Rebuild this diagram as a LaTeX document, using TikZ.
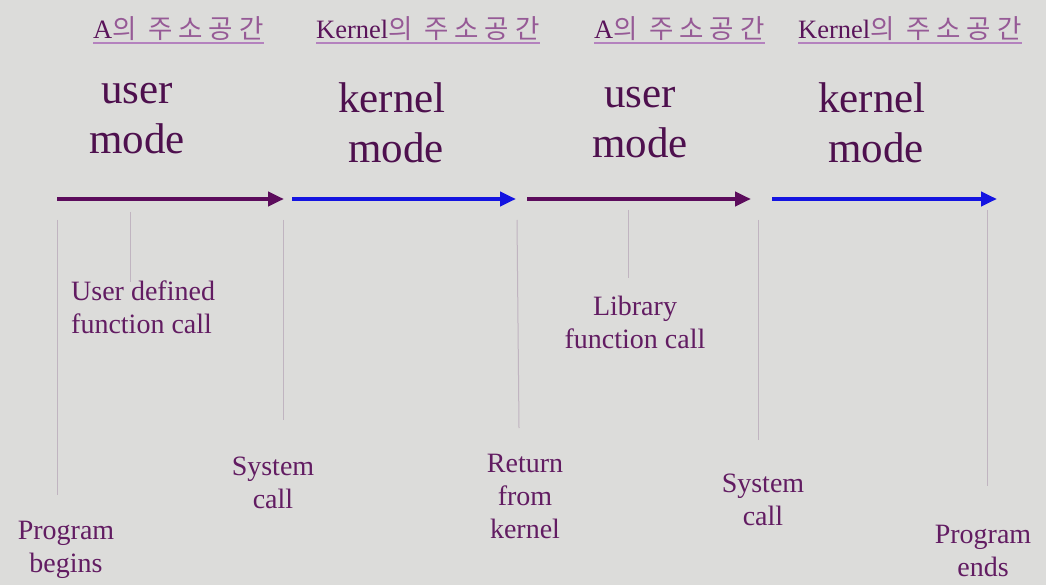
\documentclass[tikz,border=0pt]{standalone}
\usepackage{fontspec}
\setmainfont{Liberation Serif}
\newfontfamily\kr[LetterSpace=22]{Noto Sans CJK KR}
\usetikzlibrary{arrows.meta}
\definecolor{bg}{RGB}{220,220,218}
\definecolor{bigtxt}{RGB}{78,16,78}
\definecolor{lbltxt}{RGB}{98,28,98}
\definecolor{headA}{RGB}{90,20,90}
\definecolor{headK}{RGB}{150,90,150}
\definecolor{uline}{RGB}{180,130,190}
\definecolor{purplearr}{RGB}{92,12,92}
\definecolor{bluearr}{RGB}{20,20,225}
\definecolor{tick}{RGB}{192,180,192}
\tikzset{
  x=1pt, y=-1pt,
  heading/.style={inner sep=0pt, anchor=base west, font=\fontsize{26.5}{30}\selectfont},
  modetext/.style={inner sep=0pt, align=center, text=bigtxt, font=\fontsize{43}{50}\selectfont},
  lbl/.style={inner sep=0pt, align=center, text=lbltxt, font=\fontsize{28}{33}\selectfont},
  lblL/.style={inner sep=0pt, align=left, text=lbltxt, font=\fontsize{28}{33}\selectfont},
  ularr/.style={line width=4.5pt, -{Triangle[length=16pt,width=14pt]}},
  tickline/.style={draw=tick, line width=1pt},
  underl/.style={draw=uline, line width=1.6pt}
}
\begin{document}
\begin{tikzpicture}
\fill[bg] (0,0) rectangle (1046,585);
\useasboundingbox (0,0) rectangle (1046,585);

% headings
\node[heading] (h1) at (93,39) {\textcolor{headA}{A}\textcolor{headK}{\kr 의 주소공간}};
\node[heading] (h2) at (316,39) {\textcolor{headA}{Kernel}\textcolor{headK}{\kr 의 주소공간}};
\node[heading] (h3) at (594,39) {\textcolor{headA}{A}\textcolor{headK}{\kr 의 주소공간}};
\node[heading] (h4) at (798,39) {\textcolor{headA}{Kernel}\textcolor{headK}{\kr 의 주소공간}};
\foreach \h in {h1,h2,h3,h4}{
  \draw[underl] ([yshift=-4pt]\h.base west) -- ([yshift=-4pt]\h.base east);
}

% mode texts
\node[modetext] (m1) at (137,119) {user\\mode};
\node[modetext] (m2) at (392,123) {kernel\\\hspace*{8pt}mode};
\node[modetext] (m3) at (640,123) {user\\mode};
\node[modetext] (m4) at (872,123) {kernel\\\hspace*{8pt}mode};

% arrows
\coordinate (a1s) at (57,199); \coordinate (a1e) at (284,199);
\coordinate (a2s) at (292,199); \coordinate (a2e) at (516,199);
\coordinate (a3s) at (527,199); \coordinate (a3e) at (751,199);
\coordinate (a4s) at (772,199); \coordinate (a4e) at (997,199);
\draw[ularr, purplearr] (a1s) -- (a1e);
\draw[ularr, bluearr] (a2s) -- (a2e);
\draw[ularr, purplearr] (a3s) -- (a3e);
\draw[ularr, bluearr] (a4s) -- (a4e);

% tick lines
\coordinate (t1a) at (57,220);  \coordinate (t1b) at (57,495);
\coordinate (t2a) at (130,212); \coordinate (t2b) at (130,282);
\coordinate (t3a) at (283,220); \coordinate (t3b) at (283,420);
\coordinate (t4a) at (517,220); \coordinate (t4b) at (519,428);
\coordinate (t5a) at (628,210); \coordinate (t5b) at (628,278);
\coordinate (t6a) at (758,220); \coordinate (t6b) at (758,440);
\coordinate (t7a) at (987,210); \coordinate (t7b) at (987,486);
\foreach \t in {1,...,7}{
  \draw[tickline] (t\t a) -- (t\t b);
}

% labels
\node[lblL, anchor=north west] (udf) at (71,281) {User defined\\function call};
\node[lbl] (pb) at (66,550) {Program\\begins};
\node[lbl] (sc1) at (273,483) {System\\call};
\node[lbl] (rk) at (525,496) {Return\\from\\kernel};
\node[lbl] (lib) at (635,322) {Library\\function call};
\node[lbl] (sc2) at (763,500) {System\\call};
\node[lbl] (pe) at (983,551) {Program\\ends};
\end{tikzpicture}
\end{document}
